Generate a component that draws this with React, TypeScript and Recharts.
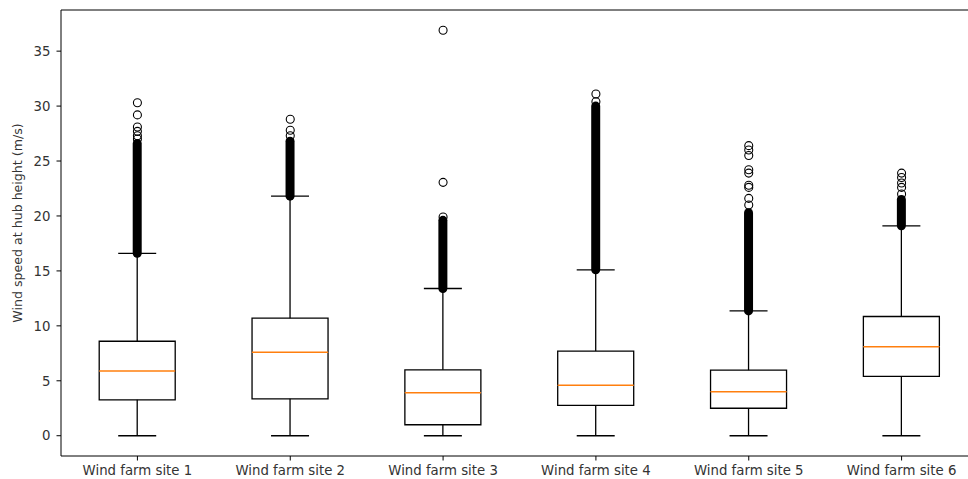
import { ComposedChart, Bar, Scatter, XAxis, YAxis } from "recharts";

const SITES = [
  "Wind farm site 1",
  "Wind farm site 2",
  "Wind farm site 3",
  "Wind farm site 4",
  "Wind farm site 5",
  "Wind farm site 6",
];
const WHISKER_LOW = [0, 0, 0, 0, 0, 0];
const Q1 = [3.27, 3.36, 1.0, 2.76, 2.5, 5.4];
const MEDIAN = [5.9, 7.6, 3.9, 4.6, 4.0, 8.1];
const Q3 = [8.6, 10.7, 6.0, 7.7, 5.97, 10.85];
const WHISKER_HIGH = [16.6, 21.8, 13.4, 15.1, 11.36, 19.1];
// fliers are so packed above the whisker that they read as one solid run up to here
const DENSE_TOP = [26.6, 26.8, 19.6, 30.0, 20.3, 21.5];
// separate flier circles above the solid run
const FLIERS = [
  [27.0, 27.3, 27.7, 28.1, 29.2, 30.3],
  [27.3, 27.8, 28.8],
  [19.9, 23.06, 36.9],
  [30.4, 31.1],
  [21.0, 21.6, 22.6, 22.8, 23.9, 24.2, 25.5, 26.0, 26.4],
  [22.0, 22.6, 23.0, 23.5, 23.9],
];
const Y_TICKS = [0, 5, 10, 15, 20, 25, 30, 35];

const rows = SITES.map((site, i) => ({
  site,
  base: WHISKER_LOW[i],
  lowWhisker: Q1[i] - WHISKER_LOW[i],
  lowBox: MEDIAN[i] - Q1[i],
  highBox: Q3[i] - MEDIAN[i],
  highWhisker: WHISKER_HIGH[i] - Q3[i],
  dense: DENSE_TOP[i] - WHISKER_HIGH[i],
}));

const flierPoints = FLIERS.flatMap((vals, i) =>
  vals.map((value) => ({ site: SITES[i], value }))
);

const FONT = "'DejaVu Sans', sans-serif";
const LINE = 1.3;

const Empty = () => <g />;

const LowWhisker = (p: any) => {
  const cx = p.x + p.width / 2;
  const cap = p.width / 4;
  const bottom = p.y + p.height;
  return (
    <g stroke="#000" strokeWidth={LINE}>
      <line x1={cx} x2={cx} y1={p.y} y2={bottom} />
      <line x1={cx - cap} x2={cx + cap} y1={bottom} y2={bottom} />
    </g>
  );
};

const HighWhisker = (p: any) => {
  const cx = p.x + p.width / 2;
  const cap = p.width / 4;
  return (
    <g stroke="#000" strokeWidth={LINE}>
      <line x1={cx} x2={cx} y1={p.y} y2={p.y + p.height} />
      <line x1={cx - cap} x2={cx + cap} y1={p.y} y2={p.y} />
    </g>
  );
};

const LowBox = (p: any) => {
  const { x, y, width: w, height: h } = p;
  return (
    <path
      d={`M${x},${y} L${x},${y + h} L${x + w},${y + h} L${x + w},${y}`}
      fill="none"
      stroke="#000"
      strokeWidth={LINE}
    />
  );
};

const HighBox = (p: any) => {
  const { x, y, width: w, height: h } = p;
  return (
    <g>
      <path
        d={`M${x},${y + h} L${x},${y} L${x + w},${y} L${x + w},${y + h}`}
        fill="none"
        stroke="#000"
        strokeWidth={LINE}
      />
      <line x1={x} x2={x + w} y1={y + h} y2={y + h} stroke="#ff7f0e" strokeWidth={1.5} />
    </g>
  );
};

// solid column of overlapping flier circles
const DenseRun = (p: any) => {
  const cx = p.x + p.width / 2;
  const r = 4.5;
  return (
    <rect
      x={cx - r}
      y={p.y - r}
      width={r * 2}
      height={p.height + r * 2}
      rx={r}
      fill="#000"
    />
  );
};

const Flier = (p: any) => (
  <circle cx={p.cx} cy={p.cy} r={4} fill="none" stroke="#000" strokeWidth={1.1} />
);

const YLabel = () => (
  <text
    x={18}
    y={223}
    transform="rotate(-90, 18, 223)"
    textAnchor="middle"
    dominantBaseline="middle"
    fontSize={12.6}
    fontFamily={FONT}
    fill="#333"
  >
    Wind speed at hub height (m/s)
  </text>
);

export default function App() {
  return (
    <div
      style={{
        position: "absolute",
        left: 0,
        top: 0,
        width: 968,
        height: 479,
        overflow: "hidden",
        background: "#fff",
      }}
    >
      <ComposedChart
        width={980}
        height={479}
        data={rows}
        margin={{ top: 9, right: 2, bottom: 0, left: 0 }}
        barCategoryGap="25%"
      >
        <XAxis
          dataKey="site"
          allowDuplicatedCategory={false}
          height={23}
          tickSize={4.5}
          tickMargin={5}
          stroke="#000"
          tick={{ fontSize: 13.3, fill: "#333", fontFamily: FONT }}
          interval={0}
        />
        <XAxis
          xAxisId="top"
          orientation="top"
          dataKey="site"
          allowDuplicatedCategory={false}
          height={1}
          tick={false}
          tickLine={false}
          stroke="#000"
        />
        <YAxis
          width={61}
          domain={[-1.845, 38.745]}
          allowDataOverflow
          ticks={Y_TICKS}
          tickSize={4.5}
          tickMargin={6}
          stroke="#000"
          tick={{ fontSize: 13.3, fill: "#333", fontFamily: FONT }}
          label={<YLabel />}
        />
        <Bar dataKey="base" stackId="box" shape={<Empty />} isAnimationActive={false} />
        <Bar dataKey="lowWhisker" stackId="box" shape={<LowWhisker />} isAnimationActive={false} />
        <Bar dataKey="lowBox" stackId="box" shape={<LowBox />} isAnimationActive={false} />
        <Bar dataKey="highBox" stackId="box" shape={<HighBox />} isAnimationActive={false} />
        <Bar dataKey="highWhisker" stackId="box" shape={<HighWhisker />} isAnimationActive={false} />
        <Bar dataKey="dense" stackId="box" shape={<DenseRun />} isAnimationActive={false} />
        <Scatter
          data={flierPoints}
          dataKey="value"
          shape={<Flier />}
          isAnimationActive={false}
        />
      </ComposedChart>
    </div>
  );
}
